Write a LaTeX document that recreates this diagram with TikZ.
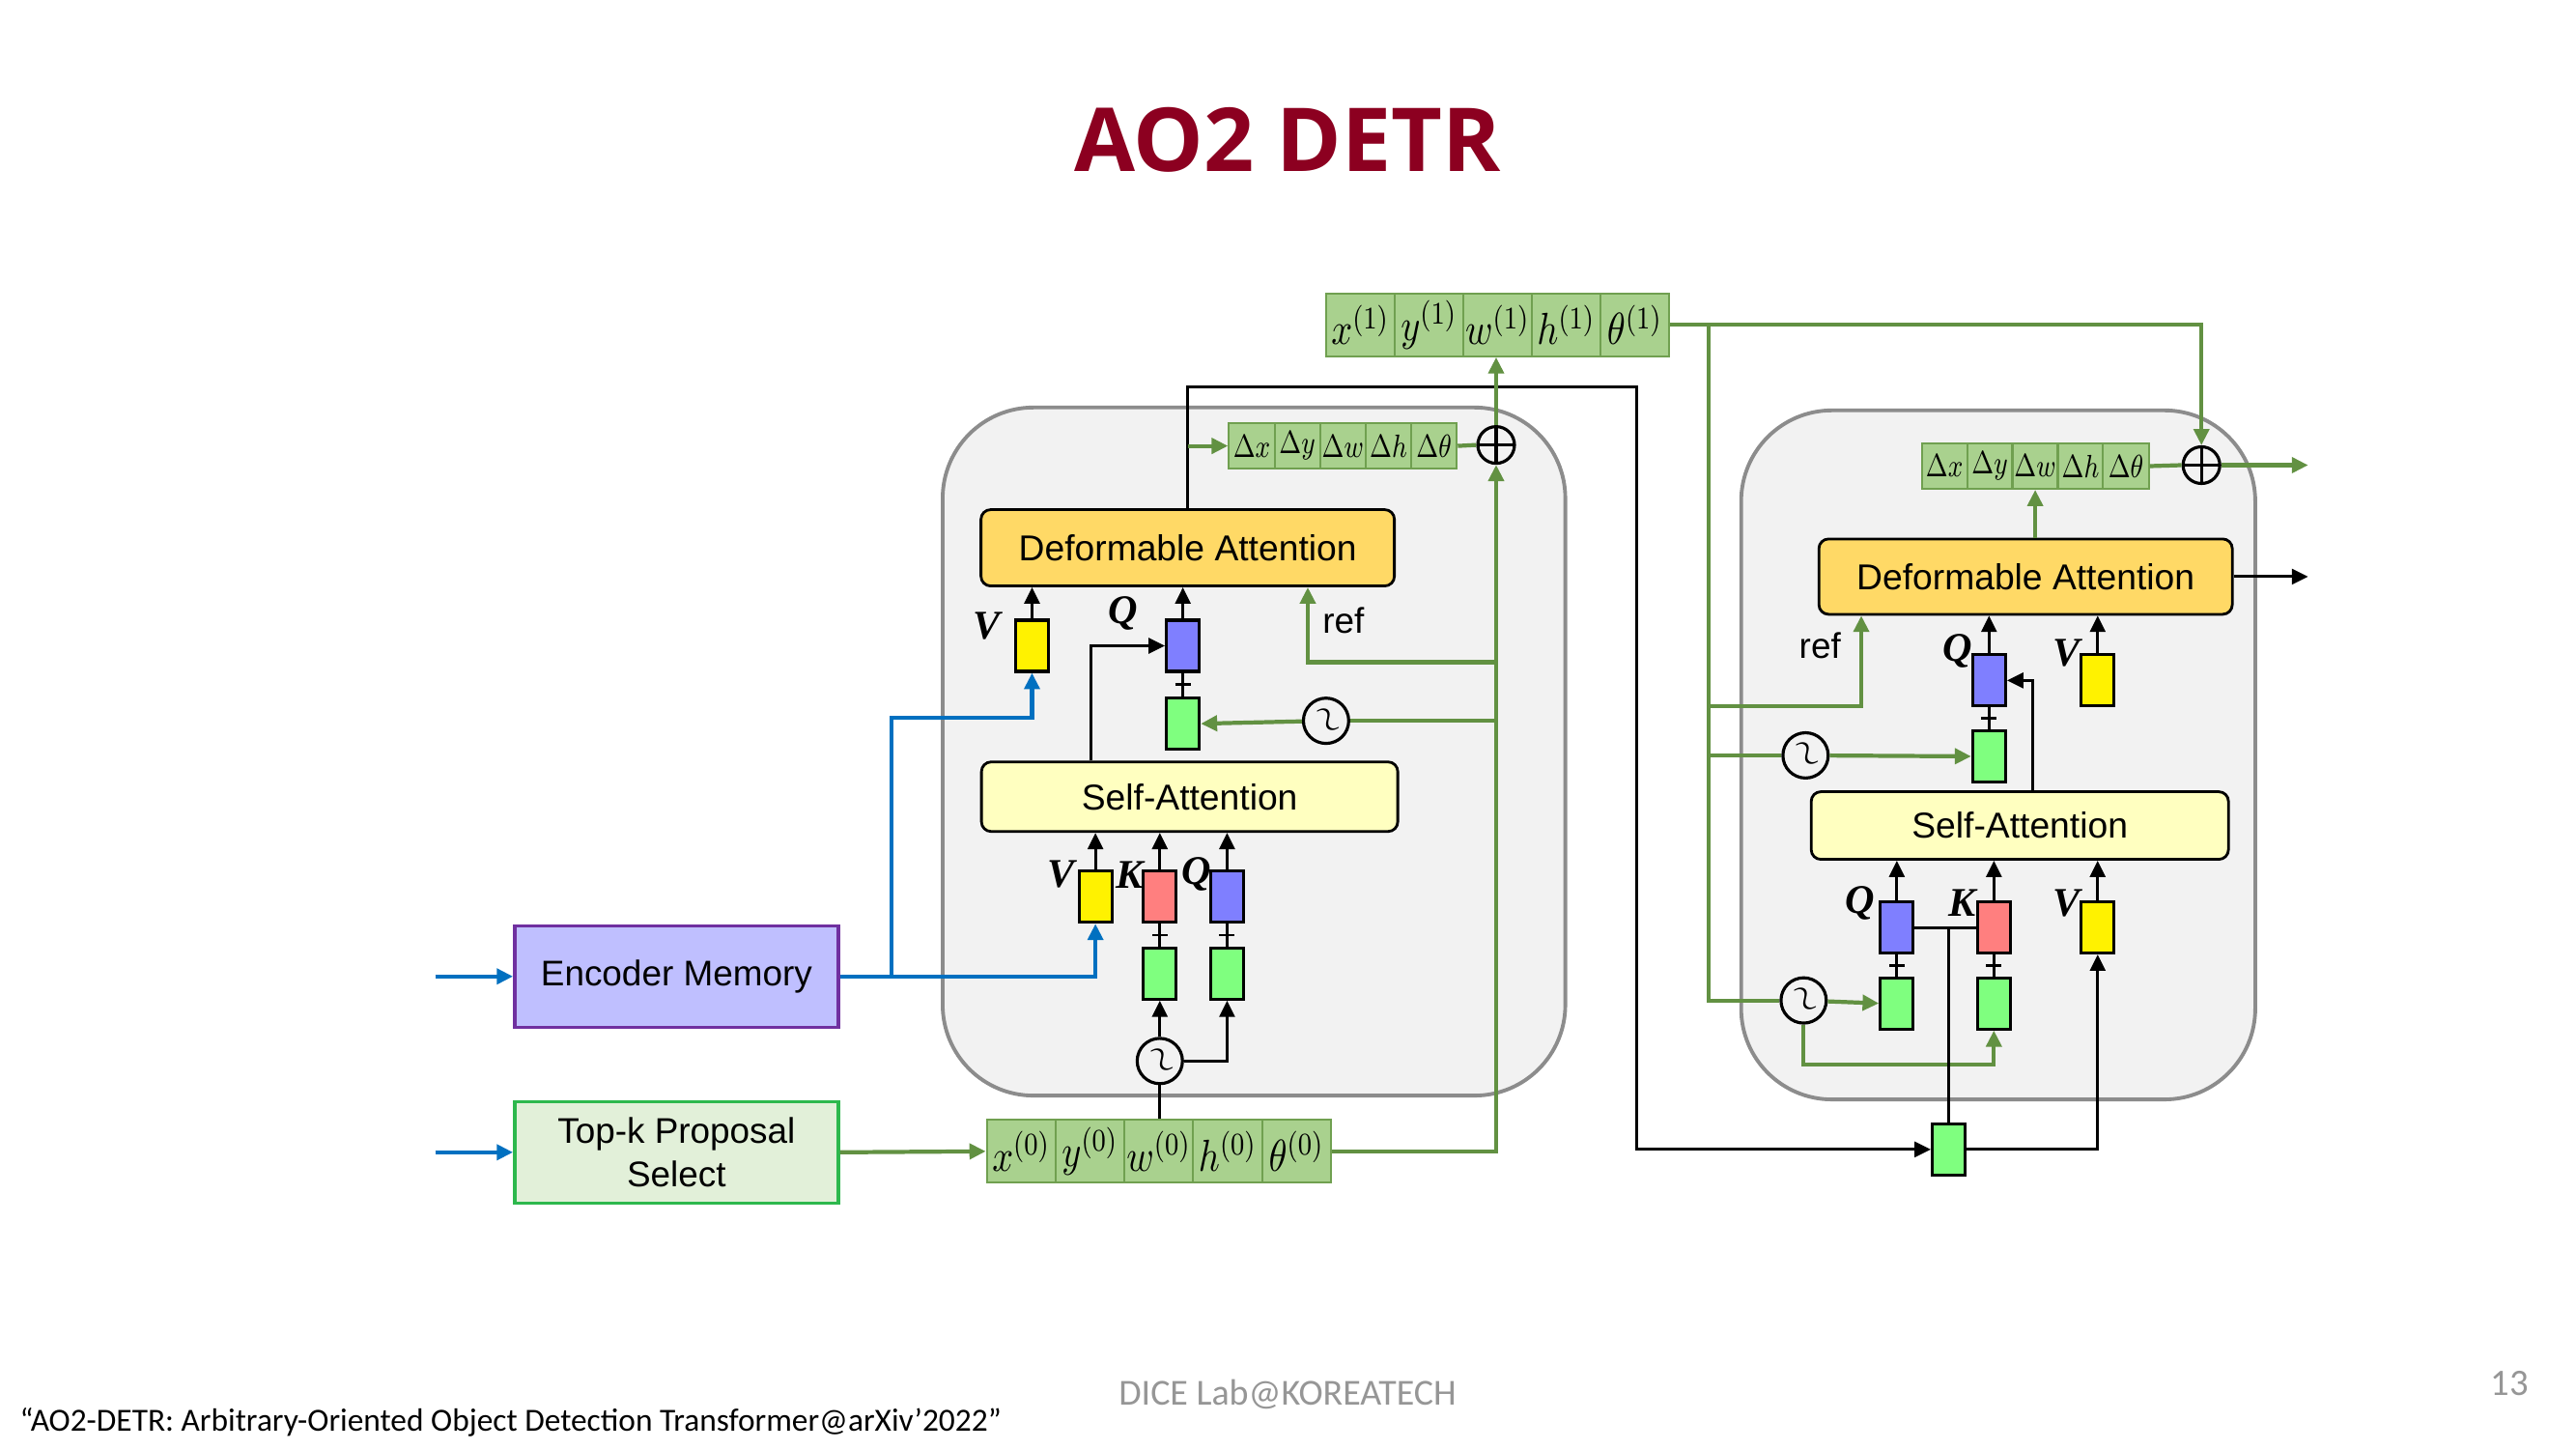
\RequirePackage{fix-cm}
\documentclass[tikz,border=0pt]{standalone}
\usepackage{fontspec}
\usepackage{graphicx}
\usetikzlibrary{arrows.meta,calc,positioning}
\newfontfamily\arialfont{Liberation Sans}
\newfontfamily\titlefont{Open Sans}
\newfontfamily\calfont{Carlito}
\newfontfamily\vkqfont{Liberation Serif}
\newcommand{\dlab}[1]{\scalebox{0.8}[1]{$\Delta#1$}}
\newcommand{\blab}[1]{\scalebox{0.95}[1.15]{$#1$}}
\newcommand{\wave}{\rotatebox{-58}{\scalebox{1.25}[1.4]{$\sim$}}}

\definecolor{titlered}{RGB}{140,0,32}
\definecolor{stripfill}{RGB}{169,209,142}
\definecolor{stripdraw}{RGB}{112,160,80}
\definecolor{gcol}{RGB}{98,145,66}
\definecolor{bcol}{RGB}{0,112,192}
\definecolor{encfill}{RGB}{191,191,255}
\definecolor{encdraw}{RGB}{112,48,160}
\definecolor{topkfill}{RGB}{226,240,217}
\definecolor{topkdraw}{RGB}{45,184,77}
\definecolor{dafill}{RGB}{255,217,102}
\definecolor{safill}{RGB}{255,255,192}
\definecolor{blockfill}{RGB}{242,242,242}
\definecolor{blockdraw}{RGB}{140,140,140}
\definecolor{footgray}{RGB}{150,150,150}

\tikzstyle{block} = [draw=blockdraw, fill=blockfill, line width=1.1pt, rounded corners=0.94cm]
\tikzstyle{attn} = [draw, line width=0.8pt, rounded corners=0.1cm, inner sep=0pt,
    font=\arialfont\fontsize{10.6}{12}\selectfont]
\tikzstyle{inbox} = [line width=1pt, minimum width=3.35cm, minimum height=1.05cm, align=center,
    font=\arialfont\fontsize{10.5}{12.6}\selectfont]
\tikzstyle{feat} = [draw, line width=0.9pt, minimum width=0.34cm, minimum height=0.53cm, inner sep=0pt]
\tikzstyle{featV} = [feat, fill=yellow]
\tikzstyle{featK} = [feat, fill={rgb,255:red,255;green,127;blue,127}]
\tikzstyle{featQ} = [feat, fill={rgb,255:red,127;green,127;blue,255}]
\tikzstyle{featG} = [feat, fill={rgb,255:red,127;green,255;blue,127}]
\tikzstyle{boxcell} = [draw=stripdraw, fill=stripfill, line width=0.6pt, minimum width=0.714cm,
    minimum height=0.65cm, inner sep=0pt, font=\fontsize{11.5}{12}\selectfont]
\tikzstyle{dcell} = [draw=stripdraw, fill=stripfill, line width=0.6pt, minimum width=0.472cm,
    minimum height=0.47cm, inner sep=0pt, font=\fontsize{9.5}{10}\selectfont]
\tikzstyle{lab} = [inner sep=0pt, font=\vkqfont\bfseries\itshape\fontsize{12}{13}\selectfont]
\tikzstyle{pe} = [circle, draw, fill=blockfill, line width=0.9pt, minimum size=0.4cm, inner sep=0pt,
    font=\fontsize{9}{9}\selectfont]
\tikzstyle{oplus} = [circle, draw, fill=blockfill, line width=0.9pt, minimum size=0.38cm, inner sep=0pt,
    path picture={\draw[line width=0.9pt] (path picture bounding box.north) -- (path picture bounding box.south)
        (path picture bounding box.west) -- (path picture bounding box.east);}]
\tikzstyle{kwire} = [draw=black, line width=0.85pt]
\tikzstyle{gwire} = [draw=gcol, line width=1.2pt]
\tikzstyle{bwire} = [draw=bcol, line width=1.2pt]
\tikzstyle{tip} = [-{Triangle[length=4.8pt,width=4.5pt]}]

\begin{document}
\begin{tikzpicture}[x=0.0099485cm, y=-0.0099485cm]
\fill[white] (0,0) rectangle (2680.8,1507.8);
\useasboundingbox (0,0) rectangle (2680.8,1507.8);

% title and footer
\node[anchor=base, text=titlered, font=\titlefont\bfseries\fontsize{26}{30}\selectfont] (title) at (1340,178) {AO2 DETR};
\node[anchor=base west, inner sep=0pt, font=\calfont\fontsize{9.5}{11}\selectfont] (cite) at (20,1489)
    {“AO2-DETR: Arbitrary-Oriented Object Detection Transformer@arXiv’2022”};
\node[anchor=base, inner sep=0pt, text=footgray, font=\calfont\fontsize{10.8}{12}\selectfont] (lab) at (1340,1462) {DICE Lab@KOREATECH};
\node[anchor=base, inner sep=0pt, text=footgray, font=\calfont\fontsize{11}{12}\selectfont] (pg) at (2612,1452) {13};

% decoder layers
\draw[block] (981,424) rectangle (1629,1140);
\draw[block] (1812,427) rectangle (2347,1144);

% inputs
\node[inbox, draw=encdraw, fill=encfill] (enc) at (704,1016) {Encoder Memory};
\node[inbox, draw=topkdraw, fill=topkfill] (topk) at (704,1199) {Top-k Proposal\\Select};

% box strips
\foreach \s [count=\i] in {x,y,w,h,\theta} {
    \node[boxcell] (b\i) at ({1027+71.6*(\i-0.5)},1198) {\blab{\s^{(0)}}};
    \node[boxcell] (t\i) at ({1380+71.4*(\i-0.5)},338) {\blab{\s^{(1)}}};
    \node[dcell] (d\i) at ({1279+47.4*(\i-0.5)},464) {\dlab{\s}};
    \node[dcell] (e\i) at ({2000+47.2*(\i-0.5)},485) {\dlab{\s}};
}

% first layer
\node[attn, fill=dafill, minimum width=4.28cm, minimum height=0.79cm] (da1) at (1236,570) {Deformable Attention};
\node[attn, fill=safill, minimum width=4.31cm, minimum height=0.72cm] (sa1) at (1238,829) {Self-Attention};
\node[featV] (v1) at (1074,672) {};
\node[featQ] (q1) at (1231,672) {};
\node[featG] (g1) at (1231,753) {};
\node[featV] (v2) at (1140,933) {};
\node[featK] (k2) at (1207,933) {};
\node[featQ] (q2) at (1277,933) {};
\node[featG] (gk2) at (1207,1013) {};
\node[featG] (gq2) at (1277,1013) {};
\node[pe] (pe1) at (1380,750) {\wave};
\node[pe] (pe2) at (1207,1104) {\wave};
\node[oplus] (op1) at (1557,463) {};
\node[lab] (lv1) at (1027,651) {V};
\node[lab] (lq1) at (1169,638) {Q};
\node[lab] (lv2) at (1104,910) {V};
\node[lab] (lk2) at (1176,910) {K};
\node[lab] (lq2) at (1245,910) {Q};
\node[inner sep=0pt, font=\arialfont\fontsize{10.5}{12}\selectfont] (ref1) at (1398,646) {ref};

% second layer
\node[attn, fill=dafill, minimum width=4.28cm, minimum height=0.78cm] (da2) at (2108,600) {Deformable Attention};
\node[attn, fill=safill, minimum width=4.32cm, minimum height=0.70cm] (sa2) at (2102,859) {Self-Attention};
\node[featQ] (q3) at (2070,708) {};
\node[featV] (v3) at (2183,708) {};
\node[featG] (g3) at (2070,787) {};
\node[featQ] (q4) at (1974,965) {};
\node[featK] (k4) at (2075,965) {};
\node[featV] (v4) at (2183,965) {};
\node[featG] (gq4) at (1974,1044) {};
\node[featG] (gk4) at (2075,1044) {};
\node[featG] (g5) at (2028,1196) {};
\node[pe] (pe3) at (1879,786) {\wave};
\node[pe] (pe4) at (1877,1041) {\wave};
\node[oplus] (op2) at (2291,484) {};
\node[lab] (lq3) at (2037,677) {Q};
\node[lab] (lv3) at (2151,680) {V};
\node[lab] (lq4) at (1936,940) {Q};
\node[lab] (lk4) at (2042,940) {K};
\node[lab] (lv4) at (2151,940) {V};
\node[inner sep=0pt, font=\arialfont\fontsize{10.5}{12}\selectfont] (ref2) at (1894,672) {ref};

% free ends
\coordinate (in1) at (453,1016);
\coordinate (in2) at (453,1199);
\coordinate (jb) at (928,1016);
\coordinate (jb2) at (928,747);
\coordinate (kc1) at (1236,403);
\coordinate (kc2) at (1703,403);
\coordinate (r1) at (1557,689);
\coordinate (p1) at (1557,750);
\coordinate (gv) at (1778,338);
\coordinate (gv2) at (1778,1041);
\coordinate (r2) at (1778,735);
\coordinate (p3) at (1778,786);
\coordinate (p4) at (1877,1108);
\coordinate (out1) at (2402,484);
\coordinate (out2) at (2402,600);

% plus joins
\foreach \a/\b in {q1/g1,k2/gk2,q2/gq2,q3/g3,q4/gq4,k4/gk4} {
    \draw[kwire] (\a.south) -- (\b.north);
    \draw[kwire] ($(\a.south)!.5!(\b.north)+(-8,0)$) -- ++(16,0);
}

% first layer wires
\draw[bwire,tip] (in1) -- (enc.west);
\draw[bwire,tip] (in2) -- (topk.west);
\draw[gwire,tip] (topk.east) -- (b1.west);
\draw[bwire,tip] (enc.east) -| (v2.south);
\draw[bwire,tip] (jb) -- (jb2) -| (v1.south);
\draw[kwire] (pe2.south) -- (pe2.south |- b3.north);
\draw[kwire,tip] (pe2) -- (gk2.south);
\draw[kwire,tip] (pe2.east) -| (gq2.south);
\foreach \n in {v2,k2,q2}
    \draw[kwire,tip] (\n.north) -- (\n.north |- sa1.south);
\draw[kwire,tip] ($(sa1.north)+(-103,0)$) |- (q1.west);
\foreach \n in {v1,q1}
    \draw[kwire,tip] (\n.north) -- (\n.north |- da1.south);
\draw[kwire,tip] (da1.north) -- (kc1) -- (kc2) |- (g5.west);
\draw[gwire,tip] (da1.north |- d1.west) -- (d1.west);
\draw[gwire] (d5.east) -- (op1.west);
\draw[gwire,tip] (b5.east) -| (op1.south);
\draw[gwire,tip] (op1.north) -- (op1.north |- t3.south);
\draw[gwire,tip] (r1) -| ($(da1.south)+(125,0)$);
\draw[gwire] (p1) -- (pe1);
\draw[gwire,tip] (pe1) -- (g1.east);

% second layer wires
\draw[gwire,tip] (t5.east) -| (op2.north);
\draw[gwire] (gv) -- (gv2) -- (pe4);
\draw[gwire,tip] (pe4) -- (gq4.west);
\draw[gwire,tip] (pe4.south) -- (p4) -| (gk4.south);
\draw[gwire,tip] (r2) -| ($(da2.south)+(-171,0)$);
\draw[gwire] (p3) -- (pe3);
\draw[gwire,tip] (pe3) -- (g3.west);
\draw[gwire] (e5.east) -- (op2.west);
\draw[gwire,tip] (op2.east) -- (out1);
\draw[gwire,tip] (e3.south |- da2.north) -- (e3.south);
\draw[kwire,tip] (da2.east) -- (out2);
\foreach \n in {q3,v3}
    \draw[kwire,tip] (\n.north) -- (\n.north |- da2.south);
\draw[kwire,tip] ($(sa2.north)+(13,0)$) |- (q3.east);
\foreach \n in {q4,k4,v4}
    \draw[kwire,tip] (\n.north) -- (\n.north |- sa2.south);
\draw[kwire] (q4.east) -- (k4.west);
\draw[kwire] (g5.north) -- (g5.north |- q4.east);
\draw[kwire,tip] (g5.east) -| (v4.south);
\end{tikzpicture}
\end{document}
